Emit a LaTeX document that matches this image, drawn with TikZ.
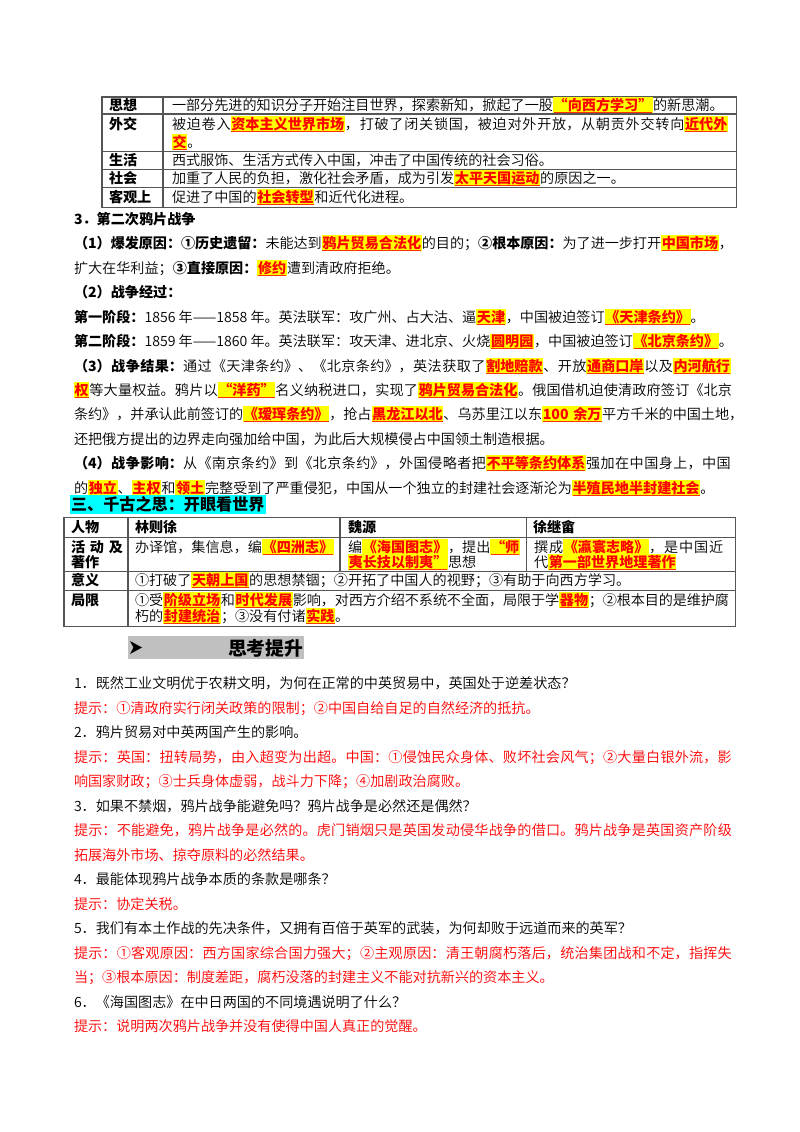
\documentclass[tikz,border=0pt]{standalone}
\usepackage{fontspec}
\IfFontExistsTF{Noto Sans CJK SC DemiLight}{\setmainfont{Noto Sans CJK SC DemiLight}}{\setmainfont{Noto Sans CJK SC}}
\newfontfamily\hei{Noto Sans CJK SC}
\definecolor{hly}{RGB}{255,255,0}
\definecolor{hlr}{RGB}{255,0,0}
\definecolor{hlu}{RGB}{255,50,0}
\definecolor{ansred}{RGB}{255,0,0}
\definecolor{tline}{RGB}{85,85,85}
\definecolor{cyanbg}{RGB}{0,255,255}
\definecolor{graybg}{RGB}{192,192,192}
\newsavebox\hlbox
\newcommand\hl[1]{\begingroup\setlength\fboxsep{0.5pt}\sbox\hlbox{\hei\bfseries\color{hlr}#1}\colorbox{hly}{\rlap{\usebox\hlbox}\textcolor{hlu}{\rule[-2pt]{\wd\hlbox}{0.8pt}}}\endgroup}
\newcommand\bh[1]{{\hei\bfseries #1}}
\newcommand\jset{\noindent\parfillskip=0pt\relax\XeTeXlinebreaklocale "zh"\XeTeXlinebreakskip=0pt plus 4pt minus 0.3pt\relax\tolerance=9999\relax}
\tikzset{
  ln/.style={anchor=base west,inner sep=0pt,outer sep=0pt,font=\fontsize{10.5}{13}\selectfont},
  jl/.style={ln,text width=#1pt,execute at begin node=\jset},
  ans/.style={text=ansred},
  tb/.style={draw=tline,line width=0.75pt},
}
\begin{document}
\begin{tikzpicture}[x=0.7441pt,y=-0.7441pt]
\path[use as bounding box,fill=white] (0,0) rectangle (800,1132);
% ---------- top table ----------
\draw[tb] (102,97) rectangle (736,207);
\draw[tb] (163,97) -- (163,207);
\foreach \yy in {114,151,169,187} \draw[tb] (102,\yy) -- (736,\yy);
\node[ln] (k1) at (109,110) {\bh{思想}};
\node[ln] (k2) at (109,129) {\bh{外交}};
\node[ln] (k3) at (109,165) {\bh{生活}};
\node[ln] (k4) at (109,183) {\bh{社会}};
\node[ln] (k5) at (109,202) {\bh{客观上}};
\node[ln] (v1) at (172,110) {一部分先进的知识分子开始注目世界，探索新知，掀起了一股\hl{“向西方学习”}的新思潮。};
\node[jl=416.7] (v2) at (172,129) {被迫卷入\hl{资本主义世界市场}，打破了闭关锁国，被迫对外开放，从朝贡外交转向\hl{近代外}\par};
\node[ln] (v2b) at (172,147) {\hl{交}。};
\node[ln] (v3) at (172,165) {西式服饰、生活方式传入中国，冲击了中国传统的社会习俗。};
\node[ln] (v4) at (172,183) {加重了人民的负担，激化社会矛盾，成为引发\hl{太平天国运动}的原因之一。};
\node[ln] (v5) at (172,202) {促进了中国的\hl{社会转型}和近代化进程。};
% ---------- section 3 ----------
\node[ln] (s1) at (74,224) {\bh{3．第二次鸦片战争}};
\node[jl=490.36] (s2) at (74,248) {\bh{（1）爆发原因：①历史遗留：}未能达到\hl{鸦片贸易合法化}的目的；\bh{②根本原因：}为了进一步打开\hl{中国市场}，\par};
\node[ln] (s3) at (74,273) {扩大在华利益；\bh{③直接原因：}\hl{修约}遭到清政府拒绝。};
\node[ln] (s4) at (74,297) {\bh{（2）战争经过：}};
\node[ln] (s5) at (74,322) {\bh{第一阶段：}1856 年——1858 年。英法联军：攻广州、占大沽、逼\hl{天津}，中国被迫签订\hl{《天津条约》}。};
\node[ln] (s6) at (74,346) {\bh{第二阶段：}1859 年——1860 年。英法联军：攻天津、进北京、火烧\hl{圆明园}，中国被迫签订\hl{《北京条约》}。};
\node[jl=490.36] (s7) at (74,371) {\bh{（3）战争结果：}通过《天津条约》、《北京条约》，英法获取了\hl{割地赔款}、开放\hl{通商口岸}以及\hl{内河航行}\par};
\node[jl=490.36] (s8) at (74,395) {\hl{权}等大量权益。鸦片以\hl{“洋药”}名义纳税进口，实现了\hl{鸦片贸易合法化}。俄国借机迫使清政府签订《北京\par};
\node[jl=498] (s9) at (74,419) {条约》，并承认此前签订的\hl{《瑷珲条约》}，抢占\hl{黑龙江以北}、乌苏里江以东\hl{100 余万}平方千米的中国土地，\par};
\node[ln] (s10) at (74,444) {还把俄方提出的边界走向强加给中国，为此后大规模侵占中国领土制造根据。};
\node[jl=490.36] (s11) at (74,468) {\bh{（4）战争影响：}从《南京条约》到《北京条约》，外国侵略者把\hl{不平等条约体系}强加在中国身上，中国\par};
\node[ln] (s12) at (74,493) {的\hl{独立}、\hl{主权}和\hl{领土}完整受到了严重侵犯，中国从一个独立的封建社会逐渐沦为\hl{半殖民地半封建社会}。};
% ---------- section title ----------
\fill[cyanbg] (70,495) rectangle (266,514);
\node[ln] (t1) at (71,510) {\fontsize{12}{14}\selectfont\bh{三、千古之思：开眼看世界}};
% ---------- table 2 ----------
\draw[tb] (64,517) rectangle (735,626);
\foreach \yy in {537,571,590} \draw[tb] (64,\yy) -- (735,\yy);
\draw[tb] (128,517) -- (128,626);
\draw[tb] (340,517) -- (340,571);
\draw[tb] (526,517) -- (526,571);
\node[ln] (h1) at (71,532) {\bh{人物}};
\node[ln] (h2) at (135,532) {\bh{林则徐}};
\node[ln] (h3) at (348,532) {\bh{魏源}};
\node[ln] (h4) at (533,532) {\bh{徐继畲}};
\node[ln] (r1a) at (71,552) {\bh{\makebox[38.6pt][s]{活\hfill 动\hfill 及}}};
\node[ln] (r1b) at (71,567) {\bh{著作}};
\node[ln] (c2) at (135,552) {办译馆，集信息，编\hl{《四洲志》}};
\node[ln] (c3a) at (348,552) {编\hl{《海国图志》}，提出\hl{“师}};
\node[ln] (c3b) at (348,567) {\hl{夷长技以制夷”}思想};
\node[jl=144.4] (c4a) at (534,552) {撰成\hl{《瀛寰志略》}，是中国近\par};
\node[ln] (c4b) at (534,567) {代\hl{第一部世界地理著作}};
\node[ln] (r2) at (71,585) {\bh{意义}};
\node[ln] (c5) at (135,585) {①打破了\hl{天朝上国}的思想禁锢；②开拓了中国人的视野；③有助于向西方学习。};
\node[ln] (r3) at (71,605) {\bh{局限}};
\node[jl=442] (c6a) at (135,605) {①受\hl{阶级立场}和\hl{时代发展}影响，对西方介绍不系统不全面，局限于学\hl{器物}；②根本目的是维护腐\par};
\node[ln] (c6b) at (135,621) {朽的\hl{封建统治}；③没有付诸\hl{实践}。};
% ---------- 思考提升 ----------
\fill[graybg] (128,636) rectangle (304,659);
\fill[black] (130,641) -- (142,647.5) -- (130,654) -- (133.5,647.5) -- cycle;
\node[ln] (th) at (228,655) {\fontsize{14}{16}\selectfont\bh{思考提升}};
% ---------- questions ----------
\node[ln] (q1) at (74,688) {1．既然工业文明优于农耕文明，为何在正常的中英贸易中，英国处于逆差状态？};
\node[ln,ans] (a1) at (74,713) {提示：①清政府实行闭关政策的限制；②中国自给自足的自然经济的抵抗。};
\node[ln] (q2) at (74,737) {2．鸦片贸易对中英两国产生的影响。};
\node[jl=490.36,ans] (a2a) at (74,762) {提示：英国：扭转局势，由入超变为出超。中国：①侵蚀民众身体、败坏社会风气；②大量白银外流，影\par};
\node[ln,ans] (a2b) at (74,786) {响国家财政；③士兵身体虚弱，战斗力下降；④加剧政治腐败。};
\node[ln] (q3) at (74,811) {3．如果不禁烟，鸦片战争能避免吗？鸦片战争是必然还是偶然？};
\node[jl=490.36,ans] (a3a) at (74,835) {提示：不能避免，鸦片战争是必然的。虎门销烟只是英国发动侵华战争的借口。鸦片战争是英国资产阶级\par};
\node[ln,ans] (a3b) at (74,860) {拓展海外市场、掠夺原料的必然结果。};
\node[ln] (q4) at (74,884) {4．最能体现鸦片战争本质的条款是哪条？};
\node[ln,ans] (a4) at (74,909) {提示：协定关税。};
\node[ln] (q5) at (74,933) {5．我们有本土作战的先决条件，又拥有百倍于英军的武装，为何却败于远道而来的英军？};
\node[jl=490.36,ans] (a5a) at (74,958) {提示：①客观原因：西方国家综合国力强大；②主观原因：清王朝腐朽落后，统治集团战和不定，指挥失\par};
\node[ln,ans] (a5b) at (74,982) {当；③根本原因：制度差距，腐朽没落的封建主义不能对抗新兴的资本主义。};
\node[ln] (q6) at (74,1007) {6．《海国图志》在中日两国的不同境遇说明了什么？};
\node[ln,ans] (a6) at (74,1031) {提示：说明两次鸦片战争并没有使得中国人真正的觉醒。};
\end{tikzpicture}
\end{document}
